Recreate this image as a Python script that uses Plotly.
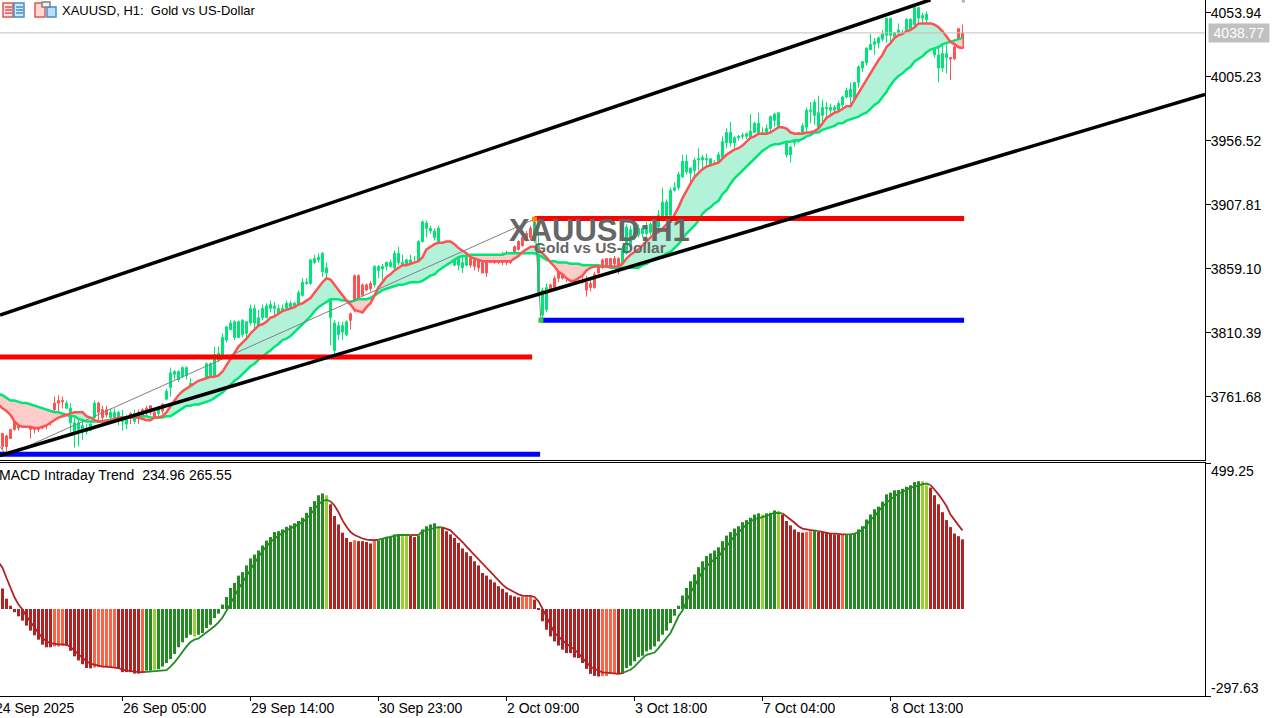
import plotly.graph_objects as go
from plotly.subplots import make_subplots

# Candles, one hour per bar
opens = [3734,3732,3737,3746,3744,3749,3752,3740,3740,3739,
         3741,3745,3749,3757,3759,3759,3753,3742,3734,3737,
         3736,3735,3736,3746,3757,3752,3752,3746,3746,3744,
         3743,3741,3749,3743,3750,3752,3753,3755,3750,3749,
         3756,3760,3769,3779,3775,3777,3778,3769,3762,3765,
         3767,3771,3778,3778,3790,3794,3805,3813,3807,3807,
         3809,3810,3818,3818,3815,3822,3822,3829,3829,3824,
         3826,3829,3830,3831,3832,3839,3848,3848,3864,3866,
         3857,3856,3822,3797,3809,3811,3809,3825,3854,3854,
         3847,3847,3848,3847,3858,3859,3861,3861,3860,3864,
         3862,3862,3863,3862,3864,3880,3890,3888,3883,3879,
         3871,3872,3870,3862,3862,3860,3862,3867,3866,3866,
         3864,3866,3867,3867,3867,3870,3870,3870,3876,3880,
         3883,3886,3890,3881,3841,3824,3828,3847,3852,3857,
         3856,3858,3862,3862,3861,3860,3849,3848,3855,3861,
         3866,3867,3867,3867,3867,3861,3871,3876,3883,3885,
         3886,3886,3887,3889,3891,3899,3899,3900,3919,3921,
         3929,3933,3932,3934,3942,3942,3942,3937,3937,3934,
         3944,3955,3955,3955,3959,3960,3960,3960,3963,3963,
         3961,3963,3966,3972,3966,3955,3946,3946,3955,3956,
         3963,3967,3979,3976,3966,3976,3981,3980,3980,3980,
         3984,3990,3990,3988,4001,4012,4016,4026,4030,4031,
         4034,4037,4037,4036,4039,4035,4039,4042,4045,4050,
         4050,4049,4039,4022,4012,4012,4020,4020,4019,4028,
         4027]
highs = [3734,3733,3737,3746,3746,3749,3753,3744,3740,3741,
         3742,3746,3750,3762,3763,3762,3759,3757,3746,3748,
         3743,3741,3746,3759,3758,3755,3755,3753,3753,3751,
         3752,3748,3750,3752,3752,3753,3755,3755,3753,3755,
         3757,3768,3784,3782,3782,3785,3785,3776,3771,3774,
         3772,3788,3788,3800,3800,3810,3816,3820,3820,3820,
         3821,3819,3832,3832,3828,3832,3833,3835,3834,3832,
         3832,3835,3835,3834,3843,3852,3852,3867,3870,3871,
         3872,3864,3847,3820,3819,3819,3820,3826,3855,3855,
         3848,3848,3850,3862,3862,3863,3865,3866,3873,3876,
         3870,3867,3870,3869,3881,3896,3896,3892,3890,3892,
         3879,3881,3877,3874,3874,3870,3872,3870,3867,3867,
         3867,3867,3870,3869,3870,3872,3873,3872,3877,3881,
         3885,3888,3892,3897,3895,3845,3848,3848,3854,3860,
         3861,3863,3864,3864,3862,3862,3854,3853,3857,3863,
         3867,3867,3867,3869,3868,3877,3893,3892,3894,3893,
         3892,3895,3895,3898,3904,3921,3912,3921,3925,3933,
         3946,3946,3936,3944,3951,3946,3947,3943,3942,3948,
         3960,3966,3971,3960,3961,3963,3963,3977,3971,3978,
         3967,3969,3976,3978,3978,3967,3957,3953,3963,3963,
         3970,3982,3986,3988,3991,3988,3986,3985,3984,3987,
         3991,3997,4001,4001,4014,4017,4028,4038,4035,4036,
         4041,4050,4050,4039,4046,4041,4050,4050,4058,4058,
         4054,4055,4047,4040,4028,4031,4030,4020,4032,4042,
         4045]
lows = [3722,3720,3730,3736,3736,3738,3740,3730,3734,3735,
        3737,3737,3740,3750,3749,3753,3753,3732,3723,3724,
        3729,3733,3736,3743,3743,3744,3746,3744,3742,3740,
        3736,3737,3741,3741,3741,3746,3746,3748,3746,3746,
        3749,3759,3762,3775,3773,3776,3775,3767,3761,3763,
        3765,3769,3776,3776,3788,3791,3803,3813,3805,3807,
        3807,3805,3816,3813,3813,3820,3822,3826,3820,3822,
        3822,3828,3829,3828,3831,3838,3847,3847,3863,3864,
        3853,3851,3801,3794,3805,3805,3808,3813,3826,3835,
        3838,3842,3842,3845,3852,3847,3858,3860,3858,3862,
        3861,3857,3860,3860,3863,3879,3883,3886,3881,3875,
        3870,3868,3866,3861,3858,3856,3861,3860,3858,3857,
        3856,3853,3864,3863,3863,3862,3862,3863,3867,3873,
        3876,3880,3881,3879,3838,3819,3826,3842,3843,3849,
        3851,3849,3851,3849,3854,3848,3838,3842,3844,3855,
        3859,3861,3860,3861,3855,3859,3870,3874,3881,3883,
        3883,3884,3885,3887,3889,3897,3897,3899,3918,3919,
        3929,3931,3923,3929,3934,3934,3933,3933,3933,3928,
        3943,3951,3952,3951,3957,3958,3958,3959,3963,3956,
        3957,3963,3963,3967,3964,3954,3944,3940,3952,3955,
        3961,3963,3970,3969,3965,3971,3975,3976,3978,3979,
        3982,3989,3984,3986,3997,4009,4014,4026,4022,4027,
        4032,4031,4032,4035,4028,4026,4037,4039,4043,4045,
        4039,4032,4039,4020,4001,4009,4008,4003,4018,4027,
        4027]
closes = [3724,3724,3730,3737,3738,3741,3740,3737,3737,3737,
          3738,3742,3743,3752,3757,3758,3757,3753,3742,3742,
          3740,3738,3741,3757,3750,3746,3748,3750,3750,3750,
          3747,3746,3746,3749,3747,3747,3749,3750,3747,3752,
          3751,3766,3780,3781,3781,3784,3784,3772,3769,3772,
          3771,3787,3787,3794,3795,3807,3815,3818,3819,3819,
          3820,3819,3829,3829,3822,3829,3831,3832,3831,3829,
          3829,3833,3833,3833,3841,3849,3849,3866,3867,3868,
          3871,3860,3843,3818,3816,3816,3819,3820,3828,3837,
          3839,3843,3844,3861,3861,3861,3864,3864,3871,3871,
          3864,3866,3866,3864,3880,3895,3894,3890,3888,3890,
          3874,3877,3872,3872,3868,3864,3868,3862,3861,3860,
          3856,3856,3864,3864,3864,3864,3864,3864,3870,3874,
          3877,3881,3883,3895,3877,3843,3845,3843,3845,3852,
          3852,3852,3857,3857,3856,3855,3843,3845,3845,3856,
          3861,3862,3861,3863,3858,3875,3891,3889,3893,3890,
          3890,3892,3893,3895,3900,3910,3910,3919,3921,3931,
          3941,3941,3936,3942,3943,3944,3943,3943,3940,3946,
          3956,3963,3963,3959,3960,3961,3962,3964,3970,3970,
          3963,3966,3975,3977,3978,3965,3956,3952,3960,3963,
          3968,3980,3980,3986,3978,3982,3982,3982,3982,3985,
          3990,3995,3996,4001,4013,4017,4027,4030,4032,4035,
          4038,4050,4050,4039,4041,4039,4049,4049,4058,4058,
          4052,4053,4046,4039,4022,4023,4023,4019,4028,4042,
          4038.77]

# Bars the indicator paints red, everything else is green
red_bars = (list(range(0, 16)) + [24, 25, 26, 32, 34, 35, 36, 37, 38, 40]
            + list(range(87, 93)) + list(range(117, 133))
            + list(range(137, 155)) + [237, 238, 239, 240])

# Fast and slow moving averages of the cloud, they start one bar before the first candle
fast_ma = [3756,3753,3751,3748,3743,3740,3739,3739,3739,3738,3738,
           3739,3740,3742,3744,3746,3747,3748,3749,3750,3750,
           3750,3747,3746,3744,3743,3743,3743,3744,3745,3746,
           3746,3746,3746,3746,3746,3745,3744,3744,3746,3746,
           3747,3750,3755,3759,3763,3766,3768,3770,3772,3774,
           3775,3776,3777,3777,3778,3781,3786,3791,3796,3800,
           3803,3806,3810,3813,3816,3817,3819,3822,3823,3825,
           3827,3828,3829,3830,3832,3833,3835,3837,3841,3845,
           3849,3852,3851,3847,3843,3839,3835,3832,3828,3827,
           3826,3830,3833,3839,3845,3849,3853,3855,3858,3860,
           3862,3862,3863,3864,3865,3868,3874,3876,3878,3879,
           3879,3880,3880,3878,3875,3873,3871,3868,3867,3866,
           3865,3865,3865,3865,3865,3865,3865,3865,3867,3869,
           3872,3874,3876,3876,3874,3871,3868,3864,3861,3857,
           3855,3852,3850,3850,3852,3854,3858,3860,3861,3861,
           3861,3861,3861,3861,3861,3863,3867,3870,3872,3874,
           3877,3880,3883,3886,3887,3890,3893,3895,3900,3906,
           3913,3919,3924,3929,3932,3935,3937,3938,3939,3940,
           3943,3946,3948,3950,3951,3953,3956,3959,3960,3962,
           3962,3962,3963,3965,3967,3967,3966,3963,3962,3962,
           3962,3963,3963,3964,3966,3970,3974,3976,3978,3979,
           3981,3983,3983,3988,3993,3999,4003,4008,4013,4018,
           4022,4028,4031,4035,4037,4038,4040,4041,4043,4046,
           4046,4046,4046,4045,4043,4040,4036,4032,4030,4028,
           4027]
slow_ma = [3764,3763,3761,3759,3759,3758,3757,3757,3756,3755,3754,
           3753,3752,3751,3750,3750,3749,3748,3747,3747,3745,
           3744,3743,3743,3743,3743,3743,3744,3744,3745,3745,
           3746,3746,3746,3746,3746,3747,3747,3746,3746,3746,
           3746,3747,3747,3749,3751,3753,3755,3755,3756,3756,
           3757,3758,3759,3761,3763,3765,3768,3771,3774,3776,
           3779,3782,3785,3787,3790,3792,3795,3797,3800,3802,
           3805,3806,3808,3811,3814,3817,3820,3823,3827,3830,
           3832,3834,3836,3836,3836,3835,3835,3834,3835,3836,
           3836,3836,3837,3839,3841,3843,3844,3845,3846,3847,
           3847,3848,3849,3849,3849,3850,3852,3854,3855,3858,
           3860,3862,3864,3866,3868,3869,3869,3870,3870,3870,
           3870,3870,3870,3870,3870,3870,3871,3871,3871,3871,
           3871,3871,3871,3871,3870,3868,3866,3865,3865,3864,
           3864,3864,3863,3863,3863,3862,3862,3862,3862,3862,
           3861,3861,3860,3860,3860,3860,3860,3860,3860,3860,
           3862,3863,3865,3867,3868,3869,3871,3872,3875,3878,
           3882,3886,3889,3892,3896,3901,3904,3906,3909,3911,
           3916,3919,3924,3928,3931,3934,3937,3940,3943,3946,
           3949,3951,3953,3954,3954,3955,3956,3956,3957,3957,
           3958,3960,3961,3963,3963,3965,3966,3967,3968,3970,
           3970,3972,3973,3974,3975,3977,3978,3981,3984,3986,
           3990,3994,3999,4003,4006,4008,4011,4013,4017,4019,
           4021,4024,4026,4027,4028,4030,4031,4032,4033,4034,
           4035]

# MACD pane
macd_hist = [70,35,11,-11,-25,-40,-57,-74,-90,-105,
             -122,-131,-131,-128,-128,-126,-126,-143,-162,-176,
             -189,-202,-203,-200,-199,-199,-200,-200,-202,-202,
             -216,-216,-216,-221,-221,-219,-211,-211,-208,-206,
             -197,-185,-171,-154,-131,-114,-99,-88,-94,-88,
             -82,-65,-54,-31,-16,15,41,72,89,114,
             126,149,173,186,200,217,234,246,263,266,
             272,281,286,293,301,312,329,349,369,389,
             395,389,358,318,289,261,243,229,235,232,
             232,229,224,232,235,240,247,246,255,255,
             249,249,251,246,251,272,283,289,293,278,
             278,266,255,243,226,207,194,181,163,149,
             123,114,101,91,78,69,57,47,43,40,
             43,43,43,32,-2,-42,-71,-94,-111,-125,
             -139,-151,-151,-166,-168,-185,-205,-222,-229,-231,
             -229,-229,-222,-222,-222,-222,-202,-194,-179,-165,
             -160,-145,-139,-128,-111,-88,-74,-48,-23,11,
             46,72,95,118,143,163,181,190,200,211,
             232,251,263,275,283,297,304,312,323,327,
             323,327,329,337,335,323,301,286,272,263,
             261,263,266,270,263,263,261,258,255,253,
             253,255,255,258,272,283,306,323,341,350,
             367,392,398,406,407,411,418,423,434,437,
             437,423,415,389,358,331,304,280,258,249,
             238]
# Signal also starts one bar before the first histogram bar
macd_signal = [160,141,106,72,40,15,-2,-25,-45,-65,-82,
               -99,-111,-117,-120,-121,-121,-122,-130,-143,-154,
               -168,-179,-187,-191,-194,-197,-197,-199,-200,-202,
               -208,-210,-211,-215,-216,-216,-215,-214,-213,-213,
               -211,-209,-197,-183,-165,-145,-128,-113,-105,-101,
               -91,-82,-71,-59,-46,-29,-6,21,43,69,
               89,112,135,158,178,198,215,229,240,249,
               261,270,275,283,289,297,309,323,341,358,
               369,373,368,354,331,303,281,263,253,246,
               241,237,235,235,237,240,243,246,250,253,
               253,253,253,253,253,266,270,274,278,280,
               279,275,269,255,243,229,213,198,186,171,
               155,141,127,112,98,83,72,63,57,50,
               46,45,45,41,26,1,-25,-54,-82,-94,
               -107,-119,-128,-139,-151,-168,-183,-197,-205,-211,
               -217,-218,-219,-221,-222,-219,-214,-208,-197,-182,
               -168,-157,-154,-149,-134,-117,-103,-82,-54,-25,
               -5,26,55,78,106,129,146,158,171,178,
               198,213,232,249,261,274,289,297,309,310,
               314,318,323,329,329,327,318,306,295,283,
               275,272,270,269,266,263,261,258,258,256,
               255,255,255,258,263,272,286,306,315,335,
               350,363,375,386,395,400,407,415,418,423,
               427,429,424,409,392,373,352,323,303,286,
               269]
# Histogram state per run of bars: F rising above, Y weakening, B falling, T easing
hist_runs = [("B",13),("T",3),("B",7),("T",6),("B",6),("T",1),("F",2),("Y",1),("F",9),("Y",1),
             ("F",32),("Y",1),("B",6),("T",1),("B",4),("T",1),("F",6),("Y",2),("B",2),("F",5),
             ("Y",1),("B",20),("T",3),("B",17),("T",4),("B",1),("F",35),("Y",1),("F",3),("Y",1),
             ("B",6),("T",2),("F",1),("B",6),("T",1),("F",19),("Y",2),("B",9)]

# Drawn objects on the chart
upper_channel_x = [-0.625, 232]
upper_channel_y = [3824, 4064]
lower_channel_x = [-0.625, 300.625]
lower_channel_y = [3717, 3992]
zigzag_x = [-0.625, 1, 133, 134.6]
zigzag_y = [3724, 3717, 3897, 3820]
zigzag_last_x = [240.2]
zigzag_last_y = [4063]
red_levels = [([-0.625, 132.4], 3792), ([133, 240.4], 3897.5)]
blue_levels = [([-0.625, 134.4], 3718), ([134.7, 240.4], 3820)]
last_price = 4038.77

# Axis ticks
price_ticks = [4053.94, 4005.23, 3956.52, 3907.81, 3859.10, 3810.39, 3761.68]
macd_ticks = [499.25, -297.63]
time_tick_pos = [-2, 30, 62, 94, 126, 158, 190, 222]
time_tick_labels = ["24 Sep 2025", "26 Sep 05:00", "29 Sep 14:00", "30 Sep 23:00",
                    "2 Oct 09:00", "3 Oct 18:00", "7 Oct 04:00", "8 Oct 13:00"]

GREEN = "#00E676"
RED = "#FF5252"
HIST_COLORS = {"F": "#228B22", "Y": "#9ACD32", "B": "#B22222", "T": "#FF6347"}
AXIS_FONT = "Liberation Sans"

bars = list(range(len(closes)))
line_bars = [-1] + bars
hist_states = [s for s, n in hist_runs for _ in range(n)]
signal_states = ["B"] + hist_states


# Pixel helpers for things that sit on the window, not on the data
def px(x):
    return x / 1205


def py(y):
    return (696 - y) / 696


# Function to add a text placed in window pixels
def label(x, y, text, size=14, color="black", **kwargs):
    return dict(xref="paper", yref="paper", x=px(x), y=py(y), text=text, xanchor="left",
                yanchor="middle", showarrow=False,
                font=dict(family=AXIS_FONT, size=size, color=color), **kwargs)


# Function to add the coloured cloud between the two averages
def add_cloud(fig):
    n = len(line_bars)
    start = 0
    for i in range(1, n + 1):
        if i == n or (fast_ma[i] >= slow_ma[i]) != (fast_ma[start] >= slow_ma[start]):
            end = min(i + 1, n)
            colour = "#B2F2D8" if fast_ma[start] >= slow_ma[start] else "#FFCCCC"
            fig.add_trace(go.Scatter(x=line_bars[start:end], y=slow_ma[start:end], mode="lines",
                                     line=dict(width=0), hoverinfo="skip"), row=1, col=1)
            fig.add_trace(go.Scatter(x=line_bars[start:end], y=fast_ma[start:end], mode="lines",
                                     line=dict(width=0), fill="tonexty", fillcolor=colour,
                                     hoverinfo="skip"), row=1, col=1)
            start = i


# Function to add candles, one trace per colour
def add_candles(fig):
    for colour, idx in [(GREEN, [i for i in bars if i not in red_bars]), (RED, red_bars)]:
        fig.add_trace(go.Candlestick(
            x=[bars[i] for i in idx],
            open=[opens[i] for i in idx],
            high=[highs[i] for i in idx],
            low=[lows[i] for i in idx],
            close=[closes[i] for i in idx],
            whiskerwidth=0,
            increasing=dict(line=dict(color=colour, width=1), fillcolor=colour),
            decreasing=dict(line=dict(color=colour, width=1), fillcolor=colour),
            hoverinfo="skip"), row=1, col=1)


# Function to add the signal line, coloured by the histogram state
def add_signal(fig):
    n = len(line_bars)
    start = 0
    for i in range(1, n + 1):
        if i == n or (signal_states[i] in "FY") != (signal_states[start] in "FY"):
            end = min(i + 1, n)
            colour = HIST_COLORS["F"] if signal_states[start] in "FY" else HIST_COLORS["B"]
            fig.add_trace(go.Scatter(x=line_bars[start:end], y=macd_signal[start:end], mode="lines",
                                     line=dict(color=colour, width=1.8), hoverinfo="skip"),
                          row=2, col=1)
            start = i


# Function to draw the two small toolbar icons beside the title
def icon_shapes():
    shapes = []
    rects = [(3, 3, 13, 17, "#E05555", "#FFE0DC"), (14, 3, 24, 17, "#3F8FD0", "#D5E9F8"),
             (35, 3, 45, 17, "#E05555", "#FFD8D0"), (47, 7, 56, 17, "#3F8FD0", "#BBDDF5"),
             (42, 2, 50, 7, "#808080", "#F0F0F0")]
    for x0, y0, x1, y1, line, fill in rects:
        shapes.append(dict(type="rect", xref="paper", yref="paper", x0=px(x0), x1=px(x1),
                           y0=py(y1), y1=py(y0), line=dict(color=line, width=1.5), fillcolor=fill))
    for y in (7, 10, 13):
        shapes.append(dict(type="line", xref="paper", yref="paper", x0=px(5), x1=px(12),
                           y0=py(y), y1=py(y), line=dict(color="#E05555", width=1.5)))
        shapes.append(dict(type="line", xref="paper", yref="paper", x0=px(16), x1=px(23),
                           y0=py(y), y1=py(y), line=dict(color="#3F8FD0", width=1.5)))
    return shapes


# Main part of the script
fig = make_subplots(rows=2, cols=1, vertical_spacing=0, shared_xaxes=False)

add_cloud(fig)
add_candles(fig)

# Moving averages
fig.add_trace(go.Scatter(x=line_bars, y=slow_ma, mode="lines", line=dict(color=GREEN, width=2.5),
                         hoverinfo="skip"), row=1, col=1)
fig.add_trace(go.Scatter(x=line_bars, y=fast_ma, mode="lines", line=dict(color=RED, width=2.5),
                         hoverinfo="skip"), row=1, col=1)

# Current price line and zigzag
fig.add_trace(go.Scatter(x=[-0.625, 300.625], y=[last_price, last_price], mode="lines",
                         line=dict(color="#C0C0C0", width=1), hoverinfo="skip"), row=1, col=1)
fig.add_trace(go.Scatter(x=zigzag_x, y=zigzag_y, mode="lines",
                         line=dict(color="#808080", width=1), hoverinfo="skip"), row=1, col=1)
fig.add_trace(go.Scatter(x=zigzag_last_x, y=zigzag_last_y, mode="markers",
                         marker=dict(color="#B0B0B0", size=3, symbol="square"),
                         hoverinfo="skip"), row=1, col=1)

# Support and resistance levels
for xs, level in red_levels:
    fig.add_trace(go.Scatter(x=xs, y=[level, level], mode="lines",
                             line=dict(color="#FF0000", width=5), hoverinfo="skip"), row=1, col=1)
for xs, level in blue_levels:
    fig.add_trace(go.Scatter(x=xs, y=[level, level], mode="lines",
                             line=dict(color="#0000FF", width=5), hoverinfo="skip"), row=1, col=1)
fig.add_trace(go.Scatter(x=zigzag_x[2:], y=zigzag_y[2:], mode="markers",
                         marker=dict(color=["#FF8C00", "#32CD32"], size=5, symbol="square"),
                         hoverinfo="skip"), row=1, col=1)

# Channel
fig.add_trace(go.Scatter(x=upper_channel_x, y=upper_channel_y, mode="lines",
                         line=dict(color="black", width=3.5), hoverinfo="skip"), row=1, col=1)
fig.add_trace(go.Scatter(x=lower_channel_x, y=lower_channel_y, mode="lines",
                         line=dict(color="black", width=3.5), hoverinfo="skip"), row=1, col=1)

# MACD pane
fig.add_trace(go.Bar(x=bars, y=macd_hist, width=0.75, marker_color=[HIST_COLORS[s] for s in hist_states],
                     marker_line_width=0, hoverinfo="skip"), row=2, col=1)
add_signal(fig)

annotations = [
    label(60, 10, "XAUUSD, H1:  Gold vs US-Dollar", size=13),
    label(-3, 475, "MACD Intraday Trend  234.96 265.55"),
    label(507, 230, "<b>XAUUSD:H1</b>", size=31, color="#666666"),
    label(532, 247, "<b>Gold vs US-Dollar</b>", size=15.5, color="#666666"),
    label(1208, 33, f"{last_price:.2f}", color="white", bgcolor="#C0C0C0", width=58, align="center"),
    label(1209, 471, f"{macd_ticks[0]:.2f}"),
    label(1209, 688, f"{macd_ticks[1]:.2f}"),
]
# Time labels start at their tick, they are not centred on it
for pos, text in zip(time_tick_pos, time_tick_labels):
    annotations.append(label(4 * pos + 0.5, 708, text))

fig.update_layout(
    width=1282, height=718,
    margin=dict(l=0, r=77, t=0, b=22),
    paper_bgcolor="white", plot_bgcolor="white",
    showlegend=False, barmode="overlay", boxgap=0.5, boxgroupgap=0,
    annotations=annotations,
    shapes=icon_shapes(),
    xaxis=dict(range=[-0.625, 300.625], domain=[0, 1], showgrid=False, zeroline=False,
               rangeslider=dict(visible=False), showticklabels=False, ticks="",
               showline=True, linecolor="black", linewidth=1, anchor="y"),
    yaxis=dict(range=[3713.7, 4063.8], domain=[py(460), 1], side="right", showgrid=False, zeroline=False,
               tickmode="array", tickvals=price_ticks, ticktext=[f"{t:.2f}" for t in price_ticks],
               ticks="outside", ticklen=5, tickcolor="black", tickwidth=1, ticklabelstandoff=-3,
               tickfont=dict(family=AXIS_FONT, size=14, color="black"),
               showline=True, linecolor="black", linewidth=1, anchor="x"),
    xaxis2=dict(range=[-0.625, 300.625], domain=[0, 1], showgrid=False, zeroline=False,
                tickmode="array", tickvals=time_tick_pos, showticklabels=False,
                ticks="outside", ticklen=4, tickcolor="black", tickwidth=1,
                showline=True, linecolor="black", linewidth=1, mirror=True, anchor="y2"),
    yaxis2=dict(range=[-297.63, 499.25], domain=[0, py(463)], side="right", showgrid=False, zeroline=False,
                tickmode="array", tickvals=macd_ticks, showticklabels=False,
                ticks="outside", ticklen=5, tickcolor="black", tickwidth=1,
                showline=True, linecolor="black", linewidth=1, anchor="x2"),
)

fig.write_html("out.html", config={"displayModeBar": False},
               post_script="document.body.style.margin='0';")
